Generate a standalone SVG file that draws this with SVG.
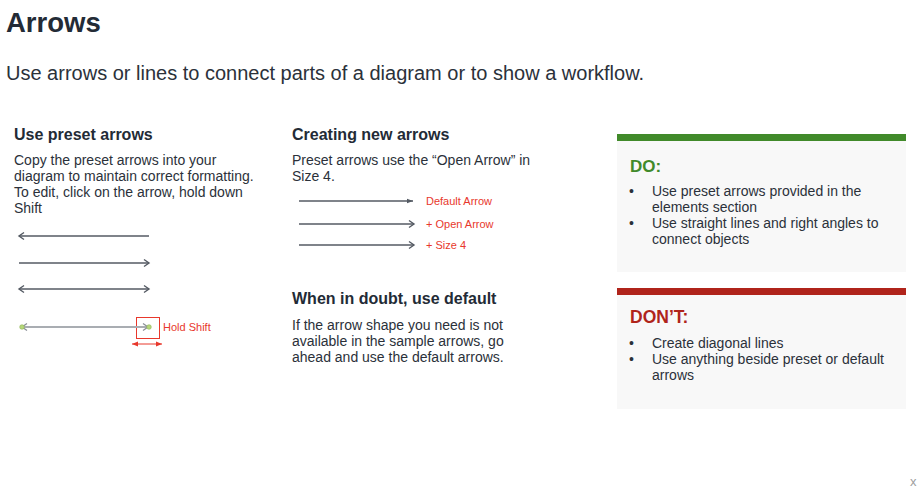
<svg xmlns="http://www.w3.org/2000/svg" width="923" height="493" viewBox="0 0 923 493">
<style>
text{font-family:"Liberation Sans",Arial,sans-serif}
.h1{font-size:27.5px;font-weight:bold;fill:#232b36}
.sub{font-size:20px;fill:#2b313a}
.h2{font-size:16px;font-weight:bold;fill:#232b36}
.b{font-size:14px;fill:#2b313a}
.lbl{font-size:11px;fill:#e8382c}
.ln{stroke:#545a63;stroke-width:1.3;fill:none}
</style>
<defs>
<marker id="open" markerWidth="10" markerHeight="10" refX="8" refY="5" orient="auto-start-reverse" markerUnits="userSpaceOnUse">
<path d="M3,1.5 L8,5 L3,8.5" fill="none" stroke="#545a63" stroke-width="1.4"/>
</marker>
<marker id="def" markerWidth="8" markerHeight="8" refX="7" refY="4" orient="auto" markerUnits="userSpaceOnUse">
<path d="M1,1.8 L7,4 L1,6.2 Z" fill="#545a63"/>
</marker>
<marker id="openg" markerWidth="10" markerHeight="10" refX="8" refY="5" orient="auto-start-reverse" markerUnits="userSpaceOnUse">
<path d="M3,1.5 L8,5 L3,8.5" fill="none" stroke="#8a8f96" stroke-width="1.3"/>
</marker>
<marker id="red" markerWidth="8" markerHeight="8" refX="6" refY="4" orient="auto-start-reverse" markerUnits="userSpaceOnUse">
<path d="M0,1.5 L6,4 L0,6.5 Z" fill="#e8382c"/>
</marker>
</defs>
<rect width="923" height="493" fill="#ffffff"/>
<text class="h1" x="6" y="32">Arrows</text>
<text class="sub" x="6" y="80">Use arrows or lines to connect parts of a diagram or to show a workflow.</text>

<g id="preset">
<text class="h2" x="14" y="140">Use preset arrows</text>
<text class="b" x="14" y="165">Copy the preset arrows into your</text>
<text class="b" x="14" y="181">diagram to maintain correct formatting.</text>
<text class="b" x="14" y="197">To edit, click on the arrow, hold down</text>
<text class="b" x="14" y="213">Shift</text>
</g>

<g id="creating">
<text class="h2" x="292" y="140">Creating new arrows</text>
<text class="b" x="292" y="165">Preset arrows use the “Open Arrow” in</text>
<text class="b" x="292" y="181">Size 4.</text>
<text class="lbl" x="426" y="205">Default Arrow</text>
<text class="lbl" x="426" y="228">+ Open Arrow</text>
<text class="lbl" x="426" y="249">+ Size 4</text>
</g>

<g id="doubt">
<text class="h2" x="292" y="304">When in doubt, use default</text>
<text class="b" x="292" y="330">If the arrow shape you need is not</text>
<text class="b" x="292" y="346">available in the sample arrows, go</text>
<text class="b" x="292" y="362">ahead and use the default arrows.</text>
</g>

<g id="do">
<rect x="617" y="134" width="289" height="7" fill="#418a2a"/>
<rect x="617" y="141" width="289" height="131" fill="#f8f8f8"/>
<text x="630" y="172" style="font-size:17px;font-weight:bold;fill:#418a2a">DO:</text>
<text class="b" x="629" y="196">•</text>
<text class="b" x="652" y="196">Use preset arrows provided in the</text>
<text class="b" x="652" y="212">elements section</text>
<text class="b" x="629" y="228">•</text>
<text class="b" x="652" y="228">Use straight lines and right angles to</text>
<text class="b" x="652" y="244">connect objects</text>
</g>

<g id="dont">
<rect x="617" y="288" width="289" height="7" fill="#b0241b"/>
<rect x="617" y="295" width="289" height="114" fill="#f8f8f8"/>
<text x="630" y="323" style="font-size:17.5px;font-weight:bold;fill:#b0241b">DON’T:</text>
<text class="b" x="629" y="348">•</text>
<text class="b" x="652" y="348">Create diagonal lines</text>
<text class="b" x="629" y="364">•</text>
<text class="b" x="652" y="364">Use anything beside preset or default</text>
<text class="b" x="652" y="380">arrows</text>
</g>

<g id="holdshift">
<rect x="136.5" y="317.5" width="23" height="21" fill="none" stroke="#e8382c" stroke-width="1"/>
<text class="lbl" x="163" y="331">Hold Shift</text>
</g>

<g id="connectors">
<line class="ln" x1="19" y1="236" x2="149" y2="236" marker-start="url(#open)"/>
<line class="ln" x1="19" y1="263" x2="149" y2="263" marker-end="url(#open)"/>
<line class="ln" x1="19" y1="289" x2="149" y2="289" marker-start="url(#open)" marker-end="url(#open)"/>
<line x1="22" y1="327" x2="148" y2="327" stroke="#a9adb2" stroke-width="2.2" marker-start="url(#openg)" marker-end="url(#openg)"/>
<circle cx="22" cy="327" r="2.3" fill="#b6d77a" stroke="#8fb357" stroke-width="0.6"/>
<circle cx="149" cy="327" r="2.3" fill="#b6d77a" stroke="#8fb357" stroke-width="0.6"/>
<line x1="132" y1="344" x2="162" y2="344" stroke="#e8382c" stroke-width="1" marker-start="url(#red)" marker-end="url(#red)"/>
<line class="ln" x1="299" y1="201" x2="413" y2="201" marker-end="url(#def)"/>
<line class="ln" x1="299" y1="224" x2="414" y2="224" marker-end="url(#open)"/>
<line class="ln" x1="299" y1="245" x2="414" y2="245" marker-end="url(#open)"/>
</g>

<text x="910" y="486" style="font-size:13px;fill:#a0a0a0">x</text>
</svg>
